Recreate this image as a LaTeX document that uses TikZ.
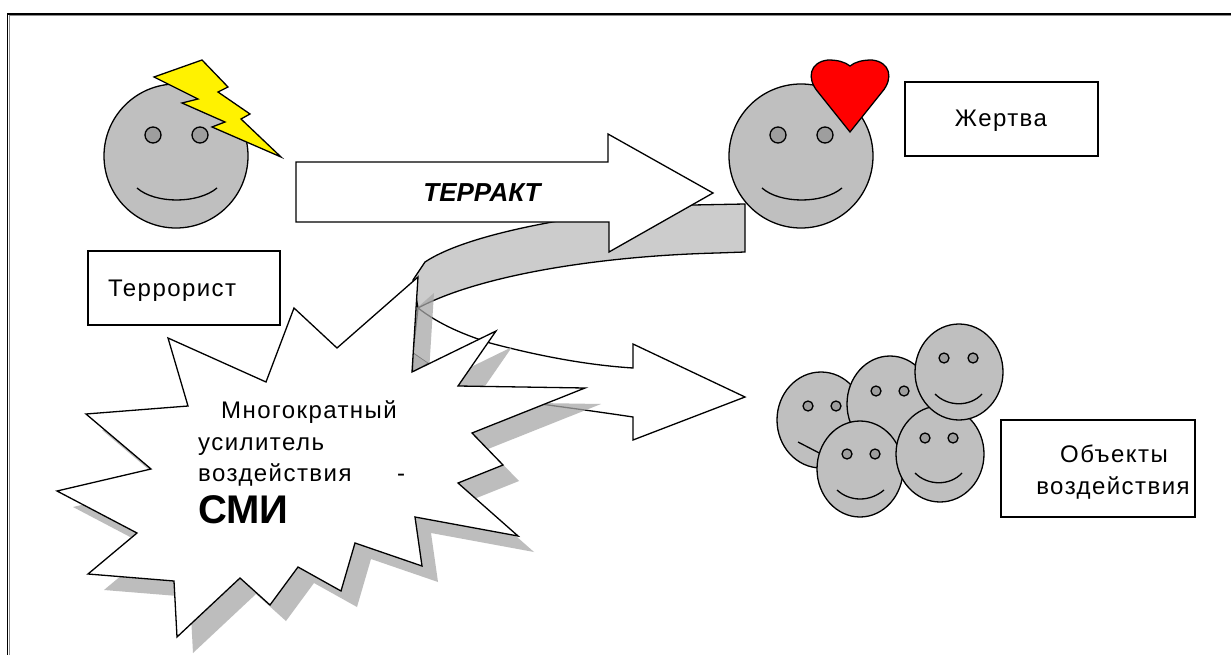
\documentclass[tikz,border=0pt]{standalone}
\usepackage{fontspec}
\setmainfont{Liberation Sans}
\definecolor{facegray}{gray}{0.75}
\definecolor{eyegray}{gray}{0.62}
\definecolor{bandgray}{gray}{0.80}
\definecolor{shadowgray}{gray}{0.66}
\tikzset{
  outl/.style={draw=black,line width=1.3pt,line join=miter},
  face/.style={outl,fill=facegray},
  eyeball/.style={outl,fill=eyegray},
  smile/.style={draw=black,line width=1.3pt},
  lbl/.style={inner sep=0pt,font=\fontsize{24}{24}\selectfont\addfontfeature{LetterSpace=6},align=center},
  labelbox/.style={outl,fill=white,inner sep=0pt}
}
\newcommand{\smiley}[9]{%
  \path[face] (#1,#2) ellipse [x radius=#3,y radius=#4];
  \path[eyeball] (#5,#6) circle [radius=#9];
  \path[eyeball] (#7,#8) circle [radius=#9];
}
\begin{document}
\begin{tikzpicture}[x=1pt,y=-1pt]
\useasboundingbox (0,0) rectangle (1231,655);
\fill[white] (0,0) rectangle (1231,655);
\draw[draw=black,line width=1.6pt] (7.5,655) -- (7.5,14) -- (1231,14);
\draw[draw=black!45,line width=1pt] (9,655) -- (9,15.5) -- (1231,15.5);

% terrorist
\smiley{176}{156}{72}{72}{153}{135}{200}{135}{8}
\draw[smile] (137,188) .. controls (155,204) and (198,204) .. (217,188);
\path[outl,fill=yellow] (154,77) -- (202,60) -- (228,87) -- (218,92) -- (250,114) -- (241,119) -- (281,157) -- (212,127) -- (225,122) -- (182,103) -- (198,99) -- cycle;

% victim
\smiley{801}{156}{72}{72}{778}{135}{825}{135}{8}
\draw[smile] (762,188) .. controls (780,204) and (823,204) .. (842,188);
\path[outl,fill=red] (850,132) -- (818,92) .. controls (806,78) and (810,62) .. (828,60) .. controls (838,60) and (845,62) .. (850,66) .. controls (855,62) and (862,60) .. (872,60) .. controls (890,62) and (894,78) .. (882,92) -- cycle;

% crowd
\smiley{821}{420}{44}{48}{808}{406}{836}{406}{5}
\draw[smile] (798,442) -- (825,456);
\smiley{890}{404}{43}{48}{876}{391}{904}{391}{5}
\smiley{860}{469}{43}{48}{847}{454}{875}{454}{5}
\draw[smile] (837,490) .. controls (850,502) and (870,502) .. (884,490);
\smiley{940}{454}{44}{48}{925}{438}{953}{438}{5}
\draw[smile] (915,473) .. controls (928,486) and (950,486) .. (962,473);
\smiley{959}{372}{44}{48}{944}{358}{973}{358}{5}
\draw[smile] (935,394) .. controls (948,407) and (970,407) .. (982,394);

% lower arrow
\path[outl,fill=white] (418,308) .. controls (440,325) and (465,335) .. (490,343) .. controls (535,355) and (585,365) .. (633,368) -- (633,344) -- (745,397) -- (633,440) -- (633,417) .. controls (600,412) and (570,408) .. (548,405) -- (470,395) -- (413,353) -- cycle;
\path[outl,fill=bandgray,line width=.6pt] (413,353) -- (428,363) -- (413,372) -- cycle;

% curved band
\path[outl,fill=bandgray] (745,204) -- (693,205) .. controls (590,212) and (470,232) .. (425,262) -- (413,280) -- (418,308) .. controls (480,275) and (600,256) .. (717,253) -- (745,252) -- cycle;

% main arrow
\path[outl,fill=white] (296,162) -- (608,162) -- (608,134) -- (713,193) -- (609,252) -- (609,222) -- (296,222) -- cycle;

% boxes
\node[labelbox,minimum width=192pt,minimum height=74pt] (terr) at (184,288) {};
\node[lbl,anchor=base west] (terrtext) at (108,296) {Террорист};
\node[labelbox,minimum width=193pt,minimum height=74pt] (zh) at (1001.5,119) {};
\node[lbl,anchor=base] (zhtext) at (1001,127) {Жертва};
\node[labelbox,minimum width=194pt,minimum height=97pt] (obj) at (1098,468.5) {};
\node[lbl,anchor=base] (objt1) at (1114,462) {Объекты};
\node[lbl,anchor=base] (objt2) at (1113,494) {воздействия};

% star
\def\starpath{(418,277) -- (337,348) -- (294,308) -- (266,382) -- (168,338) -- (188,406) -- (86,414) -- (151,469) -- (57,491) -- (137,533) -- (88,574) -- (174,581) -- (177,637) -- (240,578) -- (270,605) -- (298,567) -- (341,591) -- (355,543) -- (422,566) -- (415,517) -- (518,536) -- (458,483) -- (503,465) -- (472,433) -- (585,388) -- (458,386) -- (496,331) -- (412,372) -- cycle}
\fill[shadowgray,opacity=.75,shift={(16pt,-16pt)}] \starpath;
\path[outl,fill=white] \starpath;

% labels
\node[lbl,anchor=base west] (t1) at (221,418) {Многократный};
\node[lbl,anchor=base west] (t2) at (198,450) {усилитель};
\node[lbl,anchor=base west] (t3) at (198,481) {воздействия};
\node[lbl,anchor=base west] (t3b) at (397,481) {-};
\node[inner sep=0pt,anchor=base west,font=\fontsize{40}{40}\selectfont\bfseries] (smi) at (198,523) {СМИ};
\node[inner sep=0pt,anchor=base,font=\fontsize{26}{26}\selectfont\bfseries\itshape] (terakt) at (482,202) {ТЕРРАКТ};
\end{tikzpicture}
\end{document}
